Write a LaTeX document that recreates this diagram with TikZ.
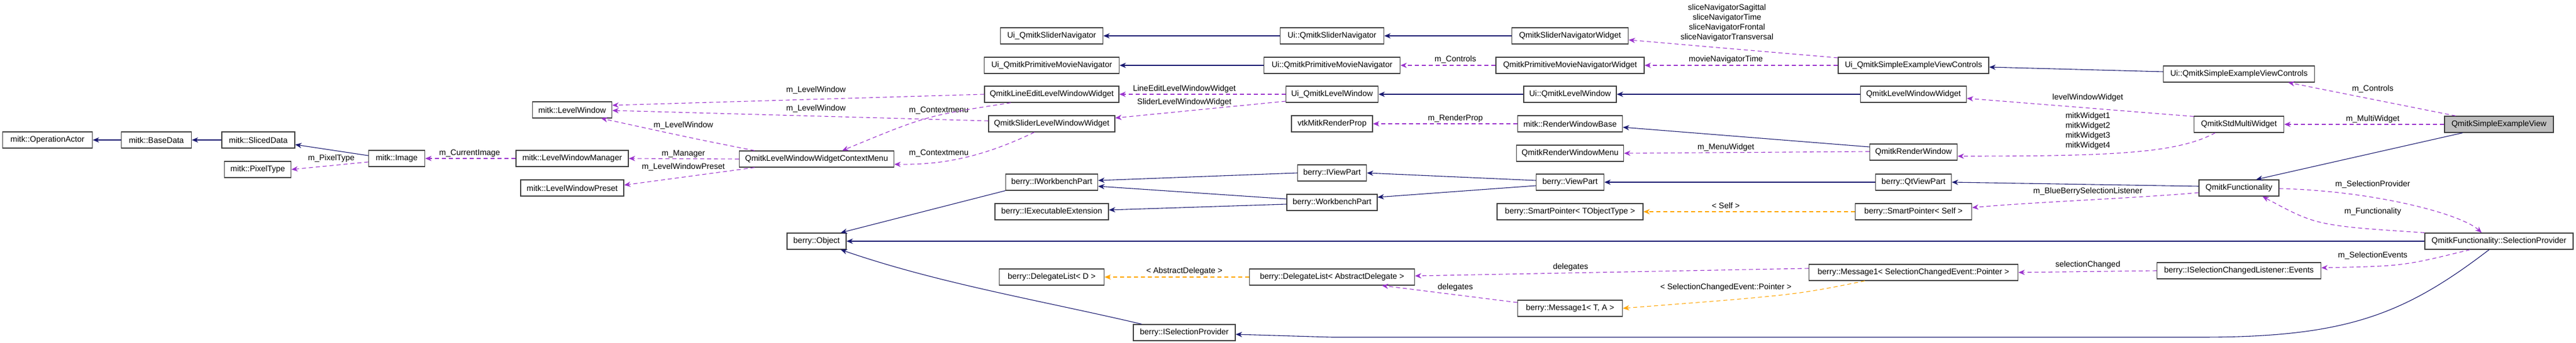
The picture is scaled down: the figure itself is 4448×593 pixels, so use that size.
\documentclass[tikz,border=0pt]{standalone}
\usepackage{fontspec}
\setmainfont{Liberation Sans}
\usetikzlibrary{arrows.meta}
\definecolor{inhc}{HTML}{191970}
\definecolor{usec}{HTML}{9A32CD}
\definecolor{tplc}{HTML}{FFA500}
\tikzset{
  box/.style={draw=black!75,line width=1.3pt,fill=white,minimum height=28pt,inner sep=0pt,font=\fontsize{14}{16}\selectfont},
  lbl/.style={font=\fontsize{14}{16}\selectfont,inner sep=0pt,align=center},
  inh/.style={draw=inhc,line width=1.1pt,-{Stealth[length=11pt,width=9pt]}},
  use/.style={draw=usec,line width=1.1pt,dash pattern=on 7pt off 5pt,-{Stealth[length=11pt,width=9pt]}},
  tpl/.style={draw=tplc,line width=1.1pt,dash pattern=on 7pt off 5pt,-{Stealth[length=11pt,width=9pt]}},
}
\newcommand\bx[5]{\node[box,minimum width=#4pt] (#1) at (#2,#3) {#5};}
\begin{document}
\begin{tikzpicture}[x=1pt,y=-1pt]
\useasboundingbox[fill=white] (0,0) rectangle (4448,593);
\bx{opa}{82}{242}{155}{mitk::OperationActor}
\bx{base}{270}{242}{121}{mitk::BaseData}
\bx{sliced}{446}{242}{126}{mitk::SlicedData}
\bx{pix}{445}{293}{115}{mitk::PixelType}
\bx{img}{685}{274}{97}{mitk::Image}
\bx{lw}{988}{190}{137}{mitk::LevelWindow}
\bx{lwm}{988}{274}{194}{mitk::LevelWindowManager}
\bx{lwp}{988}{325}{178}{mitk::LevelWindowPreset}
\bx{ctx}{1410}{275}{267}{QmitkLevelWindowWidgetContextMenu}
\bx{obj}{1410}{417}{102}{berry::Object}
\bx{uisn}{1816}{62}{177}{Ui\_QmitkSliderNavigator}
\bx{uipmn}{1816}{113}{233}{Ui\_QmitkPrimitiveMovieNavigator}
\bx{lelw}{1816}{163}{232}{QmitkLineEditLevelWindowWidget}
\bx{sllw}{1816}{214}{218}{QmitkSliderLevelWindowWidget}
\bx{iwp}{1816}{315}{159}{berry::IWorkbenchPart}
\bx{iee}{1816}{366}{196}{berry::IExecutableExtension}
\bx{dld}{1816}{479}{181}{berry::DelegateList< D >}
\bx{isp}{2045}{575}{176}{berry::ISelectionProvider}
\bx{Uisn}{2300}{62}{179}{Ui::QmitkSliderNavigator}
\bx{Uipmn}{2300}{113}{235}{Ui::QmitkPrimitiveMovieNavigator}
\bx{uilw}{2300}{163}{159}{Ui\_QmitkLevelWindow}
\bx{vtk}{2300}{214}{140}{vtkMitkRenderProp}
\bx{ivp}{2300}{299}{119}{berry::IViewPart}
\bx{wp}{2300}{350}{156}{berry::WorkbenchPart}
\bx{dla}{2300}{479}{285}{berry::DelegateList< AbstractDelegate >}
\bx{snw}{2711}{62}{201}{QmitkSliderNavigatorWidget}
\bx{pmnw}{2711}{113}{256}{QmitkPrimitiveMovieNavigatorWidget}
\bx{Uilw}{2711}{163}{160}{Ui::QmitkLevelWindow}
\bx{rwb}{2711}{214}{181}{mitk::RenderWindowBase}
\bx{rwm}{2711}{265}{185}{QmitkRenderWindowMenu}
\bx{vp}{2711}{315}{117}{berry::ViewPart}
\bx{spt}{2711}{366}{252}{berry::SmartPointer< TObjectType >}
\bx{mta}{2711}{533}{181}{berry::Message1< T, A >}
\bx{uisevc}{3304}{113}{260}{Ui\_QmitkSimpleExampleViewControls}
\bx{lww}{3304}{163}{183}{QmitkLevelWindowWidget}
\bx{rw}{3304}{263}{151}{QmitkRenderWindow}
\bx{qtvp}{3304}{315}{131}{berry::QtViewPart}
\bx{sps}{3304}{366}{201}{berry::SmartPointer< Self >}
\bx{msce}{3304}{471}{361}{berry::Message1< SelectionChangedEvent::Pointer >}
\bx{Uisevc}{3866}{128}{261}{Ui::QmitkSimpleExampleViewControls}
\bx{smw}{3866}{215}{155}{QmitkStdMultiWidget}
\bx{func}{3866}{325}{138}{QmitkFunctionality}
\bx{ev}{3866}{468}{283}{berry::ISelectionChangedListener::Events}
\node[box,minimum width=188pt,fill=black!25] (sev) at (4315,215) {QmitkSimpleExampleView};
\bx{selp}{4315}{417}{256}{QmitkFunctionality::SelectionProvider}

% labels
\node[lbl] (l1) at (572,274) {m\_PixelType};
\node[lbl] (l2) at (811,265) {m\_CurrentImage};
\node[lbl] (l3) at (1409,156) {m\_LevelWindow};
\node[lbl] (l4) at (1409,188) {m\_LevelWindow};
\node[lbl] (l5) at (1180,217) {m\_LevelWindow};
\node[lbl] (l6) at (1180,266) {m\_Manager};
\node[lbl] (l7) at (1180,289) {m\_LevelWindowPreset};
\node[lbl] (l8) at (1621,191) {m\_Contextmenu};
\node[lbl] (l9) at (1621,265) {m\_Contextmenu};
\node[lbl] (l10) at (2045,154) {LineEditLevelWindowWidget};
\node[lbl] (l11) at (2045,177) {SliderLevelWindowWidget};
\node[lbl] (l12) at (2513,103) {m\_Controls};
\node[lbl] (l13) at (2513,205) {m\_RenderProp};
\node[lbl] (l14) at (2712,462) {delegates};
\node[lbl] (l15) at (2513,497) {delegates};
\node[lbl] (l16) at (2045,469) {< AbstractDelegate >};
\node[lbl,align=center] (l17) at (2982,39) {sliceNavigatorSagittal\\[1pt]sliceNavigatorTime\\[1pt]sliceNavigatorFrontal\\[1pt]sliceNavigatorTransversal};
\node[lbl] (l18) at (2980,103) {movieNavigatorTime};
\node[lbl] (l19) at (2980,255) {m\_MenuWidget};
\node[lbl] (l20) at (2980,355) {< Self >};
\node[lbl] (l21) at (2980,497) {< SelectionChangedEvent::Pointer >};
\node[lbl] (l22) at (3605,169) {levelWindowWidget};
\node[lbl,align=center] (l23) at (3605,226) {mitkWidget1\\[1pt]mitkWidget2\\[1pt]mitkWidget3\\[1pt]mitkWidget4};
\node[lbl] (l24) at (3605,331) {m\_BlueBerrySelectionListener};
\node[lbl] (l25) at (3605,458) {selectionChanged};
\node[lbl] (l26) at (4097,154) {m\_Controls};
\node[lbl] (l27) at (4097,206) {m\_MultiWidget};
\node[lbl] (l28) at (4097,319) {m\_SelectionProvider};
\node[lbl] (l29) at (4097,366) {m\_Functionality};
\node[lbl] (l30) at (4097,442) {m\_SelectionEvents};

% edges
\draw[inh] (base.west) -- (opa.east);
\draw[inh] (sliced.west) -- (base.east);
\draw[inh] ([yshift=5pt]img.west) -- ([yshift=-8pt]sliced.east);
\draw[use] ([yshift=-6pt]img.west) -- (pix.east);
\draw[use] (lwm.west) -- (img.east);
\draw[use] ([xshift=27pt]ctx.north west) .. controls (1200,240) .. ([xshift=50pt]lw.south);
\draw[use] (ctx.west) -- (lwm.east);
\draw[use] ([xshift=27pt]ctx.south west) -- ([yshift=5pt]lwp.east);
\draw[use] (lelw.west) -- ([yshift=8pt]lw.east);
\draw[use] ([yshift=5pt]sllw.west) -- ([yshift=-1pt]lw.east);
\draw[use] ([xshift=46pt]lelw.south west) .. controls (1600,200) .. ([xshift=-90pt]ctx.north east);
\draw[use] ([xshift=-30pt]sllw.south) .. controls (1690,275) and (1620,285) .. ([yshift=-9pt]ctx.east);
\draw[inh] (Uisn.west) -- (uisn.east);
\draw[inh] (Uipmn.west) -- (uipmn.east);
\draw[use] (uilw.west) -- (lelw.east);
\draw[use] ([yshift=-12pt]uilw.west) -- ([yshift=10pt]sllw.east);
\draw[inh] (ivp.west) -- ([yshift=3pt]iwp.east);
\draw[inh] ([yshift=6pt]wp.west) -- ([yshift=-7pt]iwp.east);
\draw[inh] ([yshift=-3pt]wp.west) -- ([yshift=3pt]iee.east);
\draw[inh] (iwp.south west) -- ([xshift=-10pt]obj.north east);
\draw[inh] (selp.west) -- (obj.east);
\draw[inh] ([xshift=15pt]isp.north west) .. controls (1800,520) and (1620,490) .. ([xshift=-10pt]obj.south east);
\draw[tpl] (dla.west) -- (dld.east);
\draw[inh] ([xshift=-17pt]selp.south) .. controls (4150,545) and (4050,583) .. (3800,583) -- (2300,583) -- ([yshift=-3pt]isp.east);
\draw[inh] (snw.west) -- (Uisn.east);
\draw[use] (pmnw.west) -- (Uipmn.east);
\draw[inh] (Uilw.west) -- (uilw.east);
\draw[use] (rwb.west) -- (vtk.east);
\draw[inh] ([yshift=3pt]vp.west) -- (ivp.east);
\draw[inh] ([yshift=-6pt]vp.west) -- ([yshift=9pt]wp.east);
\draw[tpl] (sps.west) -- (spt.east);
\draw[use] ([yshift=10pt]mta.west) -- ([xshift=-57pt]dla.south east);
\draw[use] ([yshift=7pt]msce.west) -- ([yshift=2pt]dla.east);
\draw[tpl] ([xshift=-84pt]msce.south) .. controls (3100,510) .. (mta.east);
\draw[use] ([yshift=13pt]uisevc.west) -- ([yshift=-7pt]snw.east);
\draw[use] (uisevc.west) -- (pmnw.east);
\draw[inh] (lww.west) -- (Uilw.east);
\draw[inh] ([yshift=9pt]rw.west) -- ([yshift=-6pt]rwb.east);
\draw[use] ([yshift=1pt]rw.west) -- (rwm.east);
\draw[inh] (qtvp.west) -- (vp.east);
\draw[inh] ([yshift=4pt]Uisevc.west) -- ([yshift=-3pt]uisevc.east);
\draw[use] ([yshift=-1pt]smw.north west) -- ([yshift=-7pt]lww.east);
\draw[use] ([xshift=-41pt]smw.south) .. controls (3760,265) and (3650,270) .. ([yshift=-7pt]rw.east);
\draw[inh] ([yshift=3pt]func.west) -- (qtvp.east);
\draw[use] ([yshift=-8pt]func.west) .. controls (3700,342) and (3500,350) .. ([yshift=7pt]sps.east);
\draw[use] ([yshift=-1pt]func.east) .. controls (4100,330) and (4250,370) .. ([xshift=-30pt]selp.north);
\draw[use] (ev.west) -- (msce.east);
\draw[use] (sev.west) -- (smw.east);
\draw[use] ([xshift=20pt]sev.north west) -- ([xshift=85pt]Uisevc.south);
\draw[inh] ([xshift=32pt]sev.south west) -- ([xshift=-40pt]func.north east);
\draw[use] (selp.north west) .. controls (4000,390) .. ([xshift=-29pt]func.south east);
\draw[use] ([xshift=-50pt]selp.south) .. controls (4150,460) .. ([yshift=5pt]ev.east);
\end{tikzpicture}
\end{document}
